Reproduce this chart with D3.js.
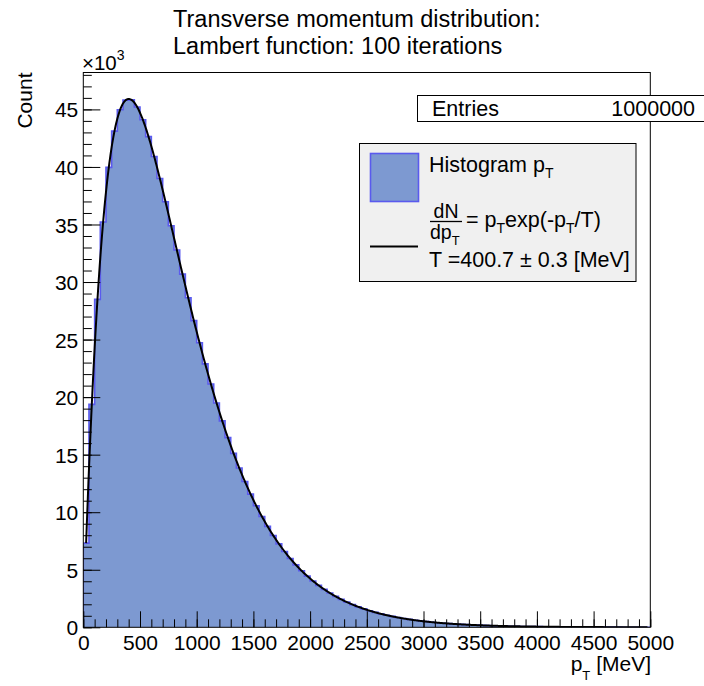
<!DOCTYPE html>
<html>
<head>
<meta charset="utf-8">
<script src="https://cdn.jsdelivr.net/npm/d3@7"></script>
<style>
  html, body { margin: 0; padding: 0; background: #fff; }
  svg text { font-family: "Liberation Sans", Arial, Helvetica, sans-serif; fill: #000; }
</style>
</head>
<body>
<svg id="chart" width="704" height="686"></svg>
<script>
// Histogram: 100 bins of 50 MeV between 0 and 5000 MeV
const binLow = 0;
const binHigh = 5000;
const binWidth = 50;
const counts = [
  7314, 19369, 28495, 35213, 39962, 43113, 44975, 45806, 45823, 45206,
  44104, 42637, 40908, 38998, 36973, 34886, 32780, 30688, 28636, 26643,
  24724, 22888, 21143, 19492, 17937, 16479, 15116, 13847, 12666, 11573,
  10562, 9628, 8769, 7978, 7252, 6587, 5978, 5422, 4913, 4449,
  4027, 3642, 3292, 2975, 2686, 2424, 2187, 1972, 1778, 1601,
  1442, 1298, 1168, 1051, 945, 849, 763, 685, 615, 552,
  496, 445, 399, 358, 321, 288, 258, 231, 207, 186,
  166, 149, 133, 119, 107, 95, 85, 76, 68, 61,
  55, 49, 44, 39, 35, 31, 28, 25, 22, 20,
  18, 16, 14, 13, 11, 10, 9, 8, 7, 6
];
const entries = 1000000;

// Fit result
const fitT = 400.7;
const fitTErr = 0.3;

// Axis ticks
const xMajorTicks = [0, 500, 1000, 1500, 2000, 2500, 3000, 3500, 4000, 4500, 5000];
const yMajorTicks = [0, 5000, 10000, 15000, 20000, 25000, 30000, 35000, 40000, 45000];

const titleLines = ["Transverse momentum distribution:", "Lambert function: 100 iterations"];

const svg = d3.select("#chart");
const frame = { left: 83.3, right: 650.3, top: 72.5, bottom: 627.3 };

const x = d3.scaleLinear().domain([binLow, binHigh]).range([frame.left, frame.right]);
const yMax = d3.max(counts) * 1.052;
const y = d3.scaleLinear().domain([0, yMax]).range([frame.bottom, frame.top]);

svg.append("rect").attr("width", 704).attr("height", 686).attr("fill", "#fff");

svg.append("clipPath").attr("id", "frameClip")
  .append("rect")
  .attr("x", frame.left).attr("y", frame.top)
  .attr("width", frame.right - frame.left).attr("height", frame.bottom - frame.top);

// Step outline of the histogram
const outline = [[binLow, 0]];
counts.forEach((c, i) => {
  const lo = binLow + i * binWidth;
  outline.push([lo, c], [lo + binWidth, c]);
});
outline.push([binHigh, 0]);

const stepLine = d3.line().x(d => x(d[0])).y(d => y(d[1]));
const plot = svg.append("g").attr("clip-path", "url(#frameClip)");

plot.append("path")
  .attr("d", stepLine(outline) + "Z")
  .attr("fill", "#7d99d1")
  .attr("stroke", "none");

plot.append("path")
  .attr("d", stepLine(outline))
  .attr("fill", "none")
  .attr("stroke", "#5a5aee")
  .attr("stroke-width", 1.6);

// Fit curve dN/dpT = norm * pT/T * exp(-pT/T)
const norm = entries * binWidth / fitT;
const fitPts = d3.range(binLow + binWidth / 2, binHigh - binWidth / 2 + 0.01, 5)
  .map(p => [p, norm * (p / fitT) * Math.exp(-p / fitT)]);
plot.append("path")
  .attr("d", d3.line().x(d => x(d[0])).y(d => y(d[1]))(fitPts))
  .attr("fill", "none")
  .attr("stroke", "#000")
  .attr("stroke-width", 2);

// Frame
svg.append("rect")
  .attr("x", frame.left).attr("y", frame.top)
  .attr("width", frame.right - frame.left).attr("height", frame.bottom - frame.top)
  .attr("fill", "none").attr("stroke", "#000").attr("stroke-width", 1);

function styleAxis(g) {
  g.select(".domain").remove();
  g.selectAll("line").attr("stroke", "#000").attr("stroke-width", 1);
  g.attr("font-family", "Liberation Sans, Arial, Helvetica, sans-serif").attr("font-size", 21);
  g.selectAll("text").attr("fill", "#000");
}

// X axis: minor ticks every 100, major every 500
const xMinor = d3.range(binLow, binHigh + 1, 100);
svg.append("g")
  .attr("transform", `translate(0,${frame.bottom})`)
  .call(d3.axisBottom(x).tickValues(xMinor).tickSize(-8).tickFormat(""))
  .call(styleAxis);
svg.append("g")
  .attr("transform", `translate(0,${frame.bottom})`)
  .call(d3.axisBottom(x).tickValues(xMajorTicks).tickSize(-16).tickPadding(8).tickFormat(d3.format("d")))
  .call(styleAxis)
  .call(g => g.selectAll("text").attr("dy", "0").attr("y", 23));

// Y axis: minor ticks every 1000, major every 5000, labels in units of 10^3
const yMinor = d3.range(0, yMax, 1000);
svg.append("g")
  .attr("transform", `translate(${frame.left},0)`)
  .call(d3.axisLeft(y).tickValues(yMinor).tickSize(-8.5).tickFormat(""))
  .call(styleAxis);
svg.append("g")
  .attr("transform", `translate(${frame.left},0)`)
  .call(d3.axisLeft(y).tickValues(yMajorTicks).tickSize(-17).tickPadding(5).tickFormat(d => d / 1000))
  .call(styleAxis)
  .call(g => g.selectAll("text").attr("dy", "0.36em"));

// Axis multiplier and titles
const mult = svg.append("text").attr("x", 82).attr("y", 70).attr("font-size", 20.5);
mult.append("tspan").text("×10");
mult.append("tspan").attr("dy", -10).attr("font-size", 14).text("3");

svg.append("text")
  .attr("transform", `translate(32,${frame.top}) rotate(-90)`)
  .attr("text-anchor", "end")
  .attr("font-size", 21)
  .text("Count");

const xTitle = svg.append("text")
  .attr("x", 651).attr("y", 671)
  .attr("text-anchor", "end")
  .attr("font-size", 21);
xTitle.append("tspan").text("p");
xTitle.append("tspan").attr("dy", 9).attr("font-size", 13).text("T");
xTitle.append("tspan").attr("dy", -9).text(" [MeV]");

// Title
svg.selectAll(".title").data(titleLines).enter().append("text")
  .attr("class", "title")
  .attr("x", 173)
  .attr("y", (d, i) => 27 + i * 27)
  .attr("font-size", 23.5)
  .text(d => d);

// Statistics box
svg.append("rect")
  .attr("x", 417.5).attr("y", 95.5).attr("width", 320).attr("height", 26)
  .attr("fill", "#fff").attr("stroke", "#000").attr("stroke-width", 1);
svg.append("text").attr("x", 432).attr("y", 115.5).attr("font-size", 21.5).text("Entries");
svg.append("text").attr("x", 695).attr("y", 115.5).attr("font-size", 21.5)
  .attr("text-anchor", "end").text(d3.format("d")(entries));

// Legend
const leg = svg.append("g");
leg.append("rect")
  .attr("x", 359.5).attr("y", 143.5).attr("width", 276.5).attr("height", 138)
  .attr("fill", "#f0f0f0").attr("stroke", "#000").attr("stroke-width", 1);
leg.append("rect")
  .attr("x", 370.5).attr("y", 153.5).attr("width", 48).attr("height", 48)
  .attr("fill", "#7d99d1").attr("stroke", "#5a5aee").attr("stroke-width", 1.6);

const l1 = leg.append("text").attr("x", 429).attr("y", 172).attr("font-size", 21.5);
l1.append("tspan").text("Histogram p");
l1.append("tspan").attr("dy", 6).attr("font-size", 14).text("T");

// Fraction dN / dpT
leg.append("text").attr("x", 446).attr("y", 217.5).attr("font-size", 19.5)
  .attr("text-anchor", "middle").text("dN");
leg.append("line").attr("x1", 430).attr("x2", 462).attr("y1", 221.5).attr("y2", 221.5)
  .attr("stroke", "#000").attr("stroke-width", 1.3);
const den = leg.append("text").attr("x", 430).attr("y", 239).attr("font-size", 19.5);
den.append("tspan").text("dp");
den.append("tspan").attr("dy", 6).attr("font-size", 13).text("T");

const eq = leg.append("text").attr("x", 466).attr("y", 227).attr("font-size", 21.5);
eq.append("tspan").text("= p");
eq.append("tspan").attr("dy", 6).attr("font-size", 14).text("T");
eq.append("tspan").attr("dy", -6).text("exp(-p");
eq.append("tspan").attr("dy", 6).attr("font-size", 14).text("T");
eq.append("tspan").attr("dy", -6).text("/T)");

leg.append("line").attr("x1", 370).attr("x2", 418).attr("y1", 246.5).attr("y2", 246.5)
  .attr("stroke", "#000").attr("stroke-width", 2);
leg.append("text").attr("x", 429).attr("y", 267).attr("font-size", 21.5)
  .text(`T =${fitT.toFixed(1)} ± ${fitTErr.toFixed(1)} [MeV]`);
</script>
</body>
</html>
